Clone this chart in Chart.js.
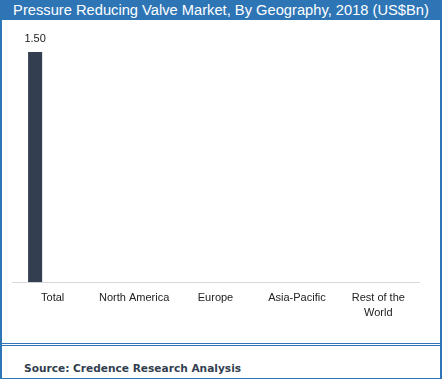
<!DOCTYPE html>
<html>
<head>
<meta charset="utf-8">
<script src="https://cdn.jsdelivr.net/npm/chart.js@4"></script>
<style>
  body { margin: 0; background: #fff; }
  #frame {
    position: relative;
    width: 438px;
    height: 378px;
    border: 2px solid #2E75B6;
    border-top: none;
    border-bottom-width: 1px;
    overflow: hidden;
  }
  #title {
    height: 20px;
    background: #2E75B6;
    color: #fff;
    font-family: "Liberation Sans", Arial, sans-serif;
    font-size: 16px;
    line-height: 20px;
    text-align: center;
    white-space: nowrap;
  }
  #plot { position: absolute; left: 0; top: 20px; width: 438px; height: 322px; }
  #sep {
    position: absolute; left: 0; top: 343px; width: 438px; height: 1px;
    border-top: 1px solid #2E75B6; border-bottom: 1px solid #2E75B6;
  }
  #source {
    position: absolute; left: 22px; top: 362px;
    font: bold 10.6px "DejaVu Sans", Verdana, sans-serif;
    color: #333F50;
  }
</style>
</head>
<body>
<div id="frame">
  <div id="title"><span id="titleText">Pressure Reducing Valve Market, By Geography, 2018 (US$Bn)</span></div>
  <div id="plot"><canvas id="chart"></canvas></div>
  <div id="sep"></div>
  <div id="source">Source: Credence Research Analysis</div>
</div>
<script>
const categories = ["Total", "North America", "Europe", "Asia-Pacific", ["Rest of the", "World"]];
const series1 = [1.50, null, null, null, null];
const series2 = [null, null, null, null, null];

// shrink the title font so it fits the bar like the original
const titleText = document.getElementById("titleText");
const w = titleText.getBoundingClientRect().width;
if (w > 416) titleText.style.fontSize = (16 * 416 / w) + "px";

// draws the value above each bar
const valueLabels = {
    id: "valueLabels",
    afterDatasetsDraw(chart) {
        const ctx = chart.ctx;
        ctx.save();
        ctx.font = "11px 'Liberation Sans', Arial, sans-serif";
        ctx.fillStyle = "#222";
        ctx.textAlign = "center";
        ctx.textBaseline = "bottom";
        chart.data.datasets.forEach((ds, i) => {
            chart.getDatasetMeta(i).data.forEach((bar, j) => {
                const v = ds.data[j];
                if (v == null) return;
                ctx.fillText(v.toFixed(2), bar.x, bar.y - 8);
            });
        });
        ctx.restore();
    }
};

new Chart(document.getElementById("chart"), {
    type: "bar",
    data: {
        labels: categories,
        datasets: [
            { label: "Series 1", data: series1, backgroundColor: "#333F50" },
            { label: "Series 2", data: series2, backgroundColor: "#8497B0" }
        ]
    },
    options: {
        responsive: true,
        maintainAspectRatio: false,
        animation: false,
        datasets: { bar: { categoryPercentage: 0.864, barPercentage: 0.4 } },
        layout: { padding: { left: 10, right: 21, top: 32, bottom: 22 } },
        plugins: { legend: { display: false }, tooltip: { enabled: false } },
        scales: {
            x: {
                grid: { display: false },
                border: { display: true, color: "#D9D9D9", width: 1 },
                ticks: {
                    color: "#222",
                    padding: 0,
                    maxRotation: 0,
                    autoSkip: false,
                    font: { family: "'Liberation Sans', Arial, sans-serif", size: 11, lineHeight: 1.35 }
                }
            },
            y: { display: false, min: 0, max: 1.5 }
        }
    },
    plugins: [valueLabels]
});
</script>
</body>
</html>
